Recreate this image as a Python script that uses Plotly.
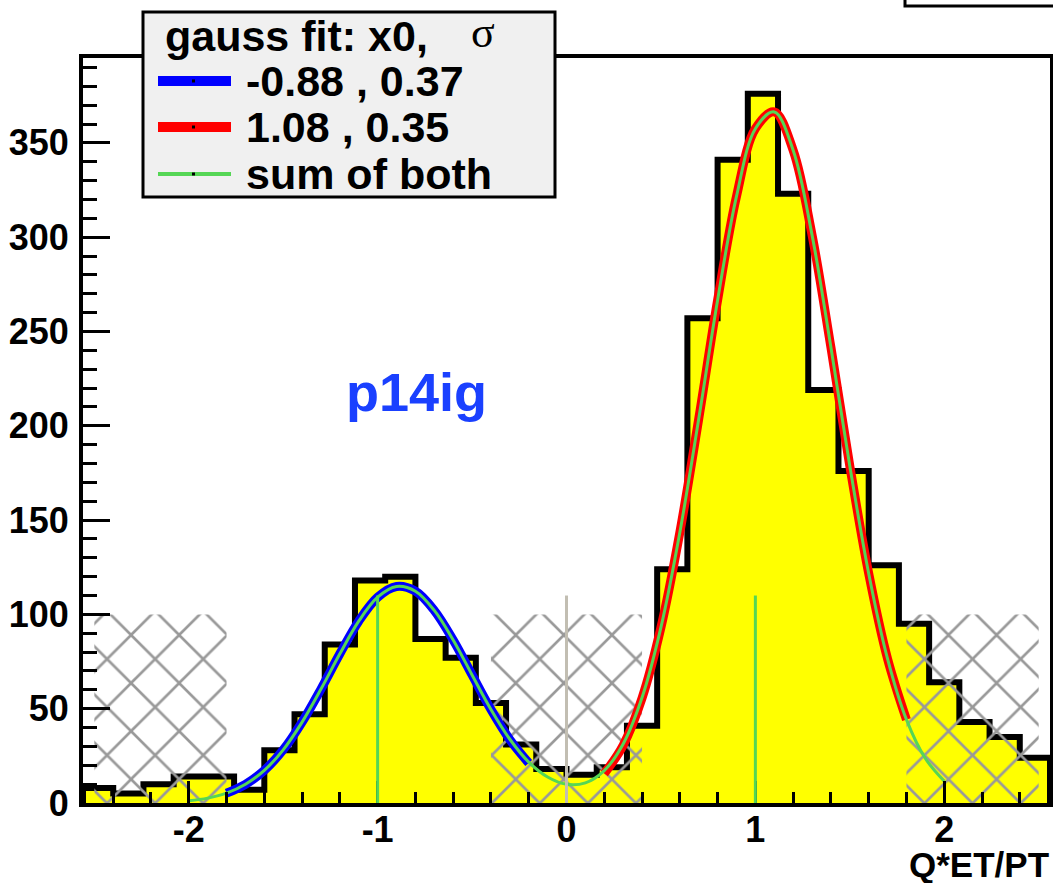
import plotly.graph_objects as go

# ---------------- data ----------------
bin_edges = [-2.56, -2.40, -2.24, -2.08, -1.92, -1.76, -1.60, -1.44, -1.28, -1.12,
             -0.96, -0.80, -0.64, -0.48, -0.32, -0.16, 0.00, 0.16, 0.32, 0.48,
             0.64, 0.80, 0.96, 1.12, 1.28, 1.44, 1.60, 1.76, 1.92, 2.08,
             2.24, 2.40, 2.56]
counts = [8, 5, 10, 14, 14, 7, 28, 47, 84, 118,
          120, 87, 77, 53, 31, 18, 15, 19, 41, 124,
          257, 341, 376, 323, 219, 176, 126, 95, 64, 43,
          35, 24]

fit1_x = [-1.8, -1.7, -1.6, -1.5, -1.4, -1.3, -1.2, -1.1, -1.0, -0.9,
          -0.8, -0.7, -0.6, -0.5, -0.4, -0.3, -0.2]
fit1_y = [5.2, 9.9, 17.3, 28.2, 42.9, 60.4, 79.1, 96.4, 109.1, 114.8,
          112.3, 102.1, 86.4, 67.9, 49.6, 33.6, 21.2]

fit2_x = [0.2, 0.3, 0.4, 0.5, 0.6, 0.7, 0.8, 0.9, 1.0, 1.1,
          1.2, 1.3, 1.4, 1.5, 1.6, 1.7, 1.8]
fit2_y = [15.6, 30.6, 55.6, 93.0, 143.4, 203.6, 266.5, 321.6, 357.5, 366.4,
          346.1, 301.2, 241.6, 178.7, 121.7, 76.4, 44.2]

sum_x = [-2.0, -1.9, -1.8, -1.7, -1.6, -1.5, -1.4, -1.3, -1.2, -1.1,
         -1.0, -0.9, -0.8, -0.7, -0.6, -0.5, -0.4, -0.3, -0.2, -0.1,
         0.0, 0.1, 0.2, 0.3, 0.4, 0.5, 0.6, 0.7, 0.8, 0.9,
         1.0, 1.1, 1.2, 1.3, 1.4, 1.5, 1.6, 1.7, 1.8, 1.9, 2.0]
sum_y = [1.2, 2.6, 5.2, 9.9, 17.3, 28.2, 42.9, 60.4, 79.1, 96.4,
         109.1, 114.8, 112.3, 102.1, 86.4, 67.9, 49.6, 33.8, 21.7, 13.8,
         9.9, 10.7, 17.2, 31.3, 55.9, 93.1, 143.4, 203.6, 266.5, 321.6,
         357.5, 366.4, 346.1, 301.2, 241.6, 178.7, 121.7, 76.4, 44.2, 23.6, 11.6]

hatch_lo = [-2.5, -0.4, 1.8]
hatch_hi = [-1.8, 0.4, 2.5]
hatch_top = 100

green_marker_x = [-1.0, 1.0]
gray_marker_x = [0.0]
marker_top = 110

x_tick_vals = [-2, -1, 0, 1, 2]
x_tick_text = ["-2", "-1", "0", "1", "2"]
y_tick_vals = [0, 50, 100, 150, 200, 250, 300, 350]
y_tick_text = ["0", "50", "100", "150", "200", "250", "300", "350"]

legend_title = "gauss fit: x0,"
legend_labels = ["-0.88 , 0.37", "1.08 , 0.35", "sum of both"]
x_title = "Q*ET/PT"
tag_text = "p14ig"

# ---------------- styles ----------------
FONT = "Liberation Sans"
YELLOW = "#ffff00"
BLUE = "#0000ff"
RED = "#ff0000"
GREEN = "#55d655"
GRAY = "#999999"
TAN = "#c2beb2"

fig = go.Figure()

# histogram as step outline filled to zero
hx = [bin_edges[0]] + bin_edges[:-1] + [bin_edges[-1], bin_edges[-1]]
hy = [0] + counts + [counts[-1], 0]
fig.add_trace(go.Scatter(x=hx, y=hy, mode="lines", line=dict(shape="hv", color="black", width=6),
                         fill="tozeroy", fillcolor=YELLOW, hoverinfo="skip"))

# hatched regions
for lo, hi in zip(hatch_lo, hatch_hi):
    fig.add_trace(go.Scatter(
        x=[lo, hi, hi, lo, lo], y=[0, 0, hatch_top, hatch_top, 0],
        mode="lines", line=dict(width=0, color="rgba(0,0,0,0)"),
        fill="toself", fillcolor="rgba(0,0,0,0)",
        fillpattern=dict(shape="x", fgcolor=GRAY, fgopacity=1, bgcolor="rgba(0,0,0,0)",
                         size=34, solidity=0.15, fillmode="overlay"),
        hoverinfo="skip"))

# fit curves
fig.add_trace(go.Scatter(x=fit1_x, y=fit1_y, mode="lines",
                         line=dict(color=BLUE, width=9, shape="spline"), hoverinfo="skip"))
fig.add_trace(go.Scatter(x=fit2_x, y=fit2_y, mode="lines",
                         line=dict(color=RED, width=9, shape="spline"), hoverinfo="skip"))
fig.add_trace(go.Scatter(x=sum_x, y=sum_y, mode="lines",
                         line=dict(color=GREEN, width=3, shape="spline"), hoverinfo="skip"))

# ---------------- layout helpers (pixel -> paper) ----------------
W, H = 1053, 883
L, R, T, B = 83, 1050, 58, 803


def px(p):
    return (p - L) / (R - L)


def py(p):
    return (B - p) / (B - T)


shapes = []
annotations = []

# reference marker lines (drawn above the axis ticks, as in the original)
for xv in gray_marker_x:
    shapes.append(dict(type="line", xref="x", yref="y", layer="above",
                       x0=xv, x1=xv, y0=0, y1=marker_top, line=dict(color=TAN, width=3)))
for xv in green_marker_x:
    shapes.append(dict(type="line", xref="x", yref="y", layer="above",
                       x0=xv, x1=xv, y0=0, y1=marker_top, line=dict(color=GREEN, width=3)))

# legend box
shapes.append(dict(type="rect", xref="paper", yref="paper", layer="above",
                   x0=px(143), x1=px(555), y0=py(197), y1=py(12),
                   fillcolor="#f0f0f0", line=dict(color="black", width=3)))
# cut-off title box at top right
shapes.append(dict(type="rect", xref="paper", yref="paper", layer="above",
                   x0=px(905), x1=px(1070), y0=py(6), y1=py(-20),
                   fillcolor="rgba(0,0,0,0)", line=dict(color="black", width=3)))

entry_y = [81, 127, 174]
entry_col = [BLUE, RED, GREEN]
entry_w = [10, 10, 4]
for yy, c, w, lab in zip(entry_y, entry_col, entry_w, legend_labels):
    shapes.append(dict(type="line", xref="paper", yref="paper", layer="above",
                       x0=px(158), x1=px(231), y0=py(yy), y1=py(yy),
                       line=dict(color=c, width=w)))
    shapes.append(dict(type="rect", xref="paper", yref="paper", layer="above",
                       x0=px(192), x1=px(195), y0=py(yy + 1.5), y1=py(yy - 1.5),
                       fillcolor="black", line=dict(width=0)))
    annotations.append(dict(xref="paper", yref="paper", x=px(244), y=py(yy),
                            xanchor="left", yanchor="middle", showarrow=False, text=lab,
                            font=dict(family=FONT, size=43, color="black", weight="bold")))

annotations.append(dict(xref="paper", yref="paper", x=px(163), y=py(36),
                        xanchor="left", yanchor="middle", showarrow=False, text=legend_title,
                        font=dict(family=FONT, size=43, color="black", weight="bold")))
annotations.append(dict(xref="paper", yref="paper", x=px(483), y=py(33),
                        xanchor="center", yanchor="middle", showarrow=False, text="σ",
                        font=dict(family="Liberation Serif", size=44, color="black")))

annotations.append(dict(xref="paper", yref="paper", x=px(416), y=py(392),
                        xanchor="center", yanchor="middle", showarrow=False, text=tag_text,
                        font=dict(family=FONT, size=54, color="#1a40ff", weight="bold")))

annotations.append(dict(xref="paper", yref="paper", x=px(1051), y=py(864),
                        xanchor="right", yanchor="middle", showarrow=False, text=x_title,
                        font=dict(family=FONT, size=35, color="black", weight="bold")))

fig.update_layout(
    width=W, height=H,
    margin=dict(l=L, r=W - R, t=T, b=H - B, pad=0),
    paper_bgcolor="white", plot_bgcolor="white",
    showlegend=False,
    shapes=shapes, annotations=annotations,
    xaxis=dict(range=[-2.56, 2.56], showgrid=False, zeroline=False,
               showline=True, linecolor="black", linewidth=4, mirror=True,
               ticks="inside", ticklen=22, tickwidth=3, tickcolor="black",
               tickmode="array", tickvals=x_tick_vals, ticktext=x_tick_text,
               tickfont=dict(family=FONT, size=36, color="black", weight="bold"),
               ticklabelstandoff=-8, automargin=False,
               minor=dict(tickmode="linear", tick0=0, dtick=0.2, ticks="inside",
                          ticklen=11, tickwidth=3, tickcolor="black", showgrid=False)),
    yaxis=dict(range=[0, 395], showgrid=False, zeroline=False,
               showline=True, linecolor="black", linewidth=4, mirror=True,
               ticks="inside", ticklen=27, tickwidth=3, tickcolor="black",
               tickmode="array", tickvals=y_tick_vals, ticktext=y_tick_text,
               tickfont=dict(family=FONT, size=36, color="black", weight="bold"),
               ticklabelstandoff=3, automargin=False,
               minor=dict(tickmode="linear", tick0=0, dtick=10, ticks="inside",
                          ticklen=14, tickwidth=3, tickcolor="black", showgrid=False)),
)

fig.write_html("out.html", config={"displayModeBar": False},
               post_script="document.body.style.margin='0';")
